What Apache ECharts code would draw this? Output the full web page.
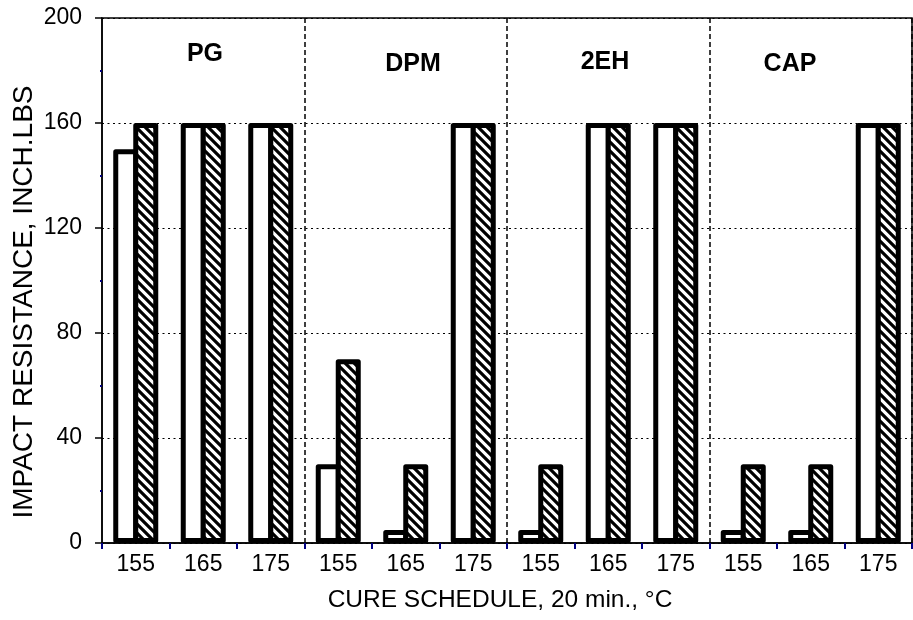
<!DOCTYPE html>
<html>
<head>
<meta charset="utf-8">
<script src="https://cdn.jsdelivr.net/npm/echarts@6/dist/echarts.min.js"></script>
<style>
html,body{margin:0;padding:0;background:#fff;}
#chart{width:913px;height:620px;}
</style>
</head>
<body>
<div id="chart"></div>
<script>
// ---- data ----
const categories = ['155','165','175','155','165','175','155','165','175','155','165','175'];
const groups = ['PG','DPM','2EH','CAP'];
const openValues    = [150,160,160, 30,  5,160,  5,160,160,  5,  5,160];
const hatchedValues = [160,160,160, 70, 30,160, 30,160,160, 30, 30,160];
const yMin = 0, yMax = 200, yStep = 40;

// ---- hatch pattern ----
function makeHatch(){
  const s = 9;
  const c = document.createElement('canvas');
  c.width = s; c.height = s;
  const g = c.getContext('2d');
  g.fillStyle = '#fff'; g.fillRect(0,0,s,s);
  g.strokeStyle = '#000'; g.lineWidth = 3.2; g.lineCap = 'square';
  g.beginPath();
  g.moveTo(-2,-2); g.lineTo(s+2,s+2);
  g.moveTo(-2,s-2); g.lineTo(2,s+2);
  g.moveTo(s-2,-2); g.lineTo(s+2,2);
  g.stroke();
  return c;
}
const hatch = {image: makeHatch(), repeat: 'repeat'};

const FONT = '"Liberation Sans", Arial, sans-serif';
const chart = echarts.init(document.getElementById('chart'), null, {renderer:'canvas'});

const groupLabelPos = [[205,54],[413,64],[605,62],[790,64]];

chart.setOption({
  animation: false,
  backgroundColor: '#fff',
  grid: {left:102, right:1, top:18, bottom:77, show:true, borderColor:'#000', borderWidth:1.5, backgroundColor:'transparent'},
  xAxis: {
    type: 'category',
    data: categories,
    boundaryGap: true,
    axisLine: {show:true, lineStyle:{color:'#000', width:1.5}},
    axisTick: {show:true, length:6, lineStyle:{color:'#000080', width:2}},
    axisLabel: {color:'#000', fontSize:23, fontFamily:FONT, margin:10, interval:0},
    splitLine: {show:true, interval:function(i){return i===3||i===6||i===9;}, lineStyle:{color:'#000', width:1.5, type:[5,3]}},
    name: 'CURE SCHEDULE, 20 min., °C',
    nameLocation: 'middle',
    nameGap: 45,
    nameTextStyle: {color:'#000', fontSize:24.5, fontFamily:FONT, padding:[0,14,0,0]}
  },
  yAxis: {
    type: 'value',
    min: yMin, max: yMax, interval: yStep,
    axisLine: {show:true, lineStyle:{color:'#000', width:1.5}},
    axisTick: {show:true, length:7, lineStyle:{color:'#000', width:1.5}},
    minorTick: {show:true, splitNumber:2, length:2, lineStyle:{color:'#000080', width:2}},
    axisLabel: {color:'#000', fontSize:23, fontFamily:FONT, margin:20},
    splitLine: {show:true, lineStyle:{color:'#000', width:1.2, type:[2,3.5]}}
  },
  series: [
    {
      type:'bar', name:'open', data: openValues, barWidth:25, barGap:'-20%',
      itemStyle:{color:'#fff', borderColor:'#000', borderWidth:5, borderJoin:'round'},
      z:2
    },
    {
      type:'bar', name:'hatched', data: hatchedValues, barWidth:25, barGap:'-20%',
      itemStyle:{color: hatch, borderColor:'#000', borderWidth:5, borderJoin:'round'},
      z:3
    }
  ],
  graphic: groups.map(function(g, i){
    return {
      type:'text', x: groupLabelPos[i][0], y: groupLabelPos[i][1], z:10,
      style:{text:g, fill:'#000', font:'bold 25px ' + FONT, textAlign:'center', textVerticalAlign:'middle'}
    };
  }).concat([{
    type:'text', x:24, y:302, rotation: Math.PI/2, z:10,
    style:{text:'IMPACT RESISTANCE, INCH.LBS', fill:'#000', font:'28px ' + FONT, textAlign:'center', textVerticalAlign:'middle'}
  }])
});
</script>
</body>
</html>
